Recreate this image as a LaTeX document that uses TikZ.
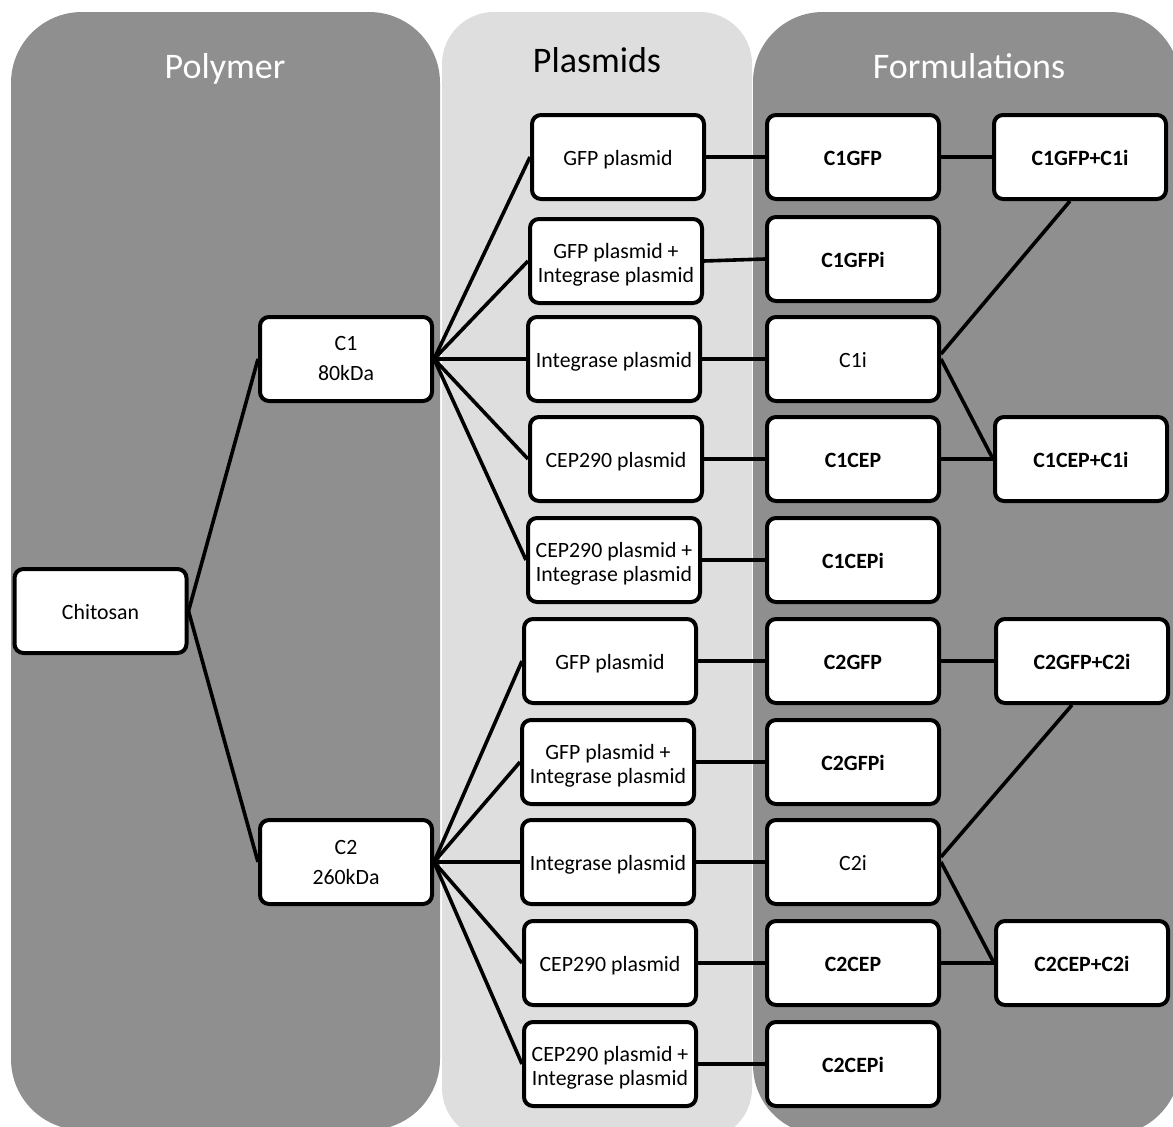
\documentclass[tikz,border=0pt]{standalone}
\usepackage{fontspec}
\setmainfont{Carlito}
\definecolor{darkpanel}{HTML}{8F8F8F}
\definecolor{lightpanel}{HTML}{DEDEDE}
\newcommand\mytopstrut{\rule{0pt}{22pt}}
\begin{document}
\begin{tikzpicture}[x=1pt,y=-1pt,
  box/.style={draw=black, line width=4pt, fill=white, rounded corners=9pt,
    minimum width=172pt, minimum height=84pt, inner sep=0pt, align=center,
    font=\fontsize{21.8}{24}\selectfont},
  sbox/.style={box, text height=16pt, text depth=0pt},
  bbox/.style={sbox, font=\fontsize{21.8}{24}\selectfont\bfseries},
  pbox/.style={box, font=\fontsize{21.8}{30}\selectfont},
  link/.style={line width=3.6pt},
  title/.style={anchor=base, font=\fontsize{36}{40}\selectfont, inner sep=0pt}
]
\clip (0,0) rectangle (1173,1127);
\fill[white] (0,0) rectangle (1173,1127);
% panels
\fill[darkpanel, rounded corners=71pt] (11,12) rectangle (440,1130);
\fill[lightpanel, rounded corners=52pt] (442,12) rectangle (752,1140);
\fill[darkpanel, rounded corners=70pt] (753,12) rectangle (1180,1135);
% titles
\node[title, text=white] (tpoly) at (225,78) {Polymer};
\node[title, text=black] (tplas) at (597,72) {Plasmids};
\node[title, text=white] (tform) at (969,78) {Formulations};
% polymer nodes
\node[sbox] (chit) at (100.5,611) {Chitosan};
\node[pbox] (c1) at (346,359) {C1\\80kDa};
\node[pbox] (c2) at (346,862) {C2\\260kDa};
% plasmid nodes
\node[sbox] (p1) at (618,157) {GFP plasmid};
\node[box]  (p2) at (616,261) {\mytopstrut GFP plasmid +\\Integrase plasmid};
\node[sbox] (p3) at (614,359) {Integrase plasmid};
\node[sbox] (p4) at (616,459) {CEP290 plasmid};
\node[box]  (p5) at (614,560) {\mytopstrut CEP290 plasmid +\\Integrase plasmid};
\node[sbox] (q1) at (610,661) {GFP plasmid};
\node[box]  (q2) at (608,762) {\mytopstrut GFP plasmid +\\Integrase plasmid};
\node[sbox] (q3) at (608,862) {Integrase plasmid};
\node[sbox] (q4) at (610,963) {CEP290 plasmid};
\node[box]  (q5) at (610,1064) {\mytopstrut CEP290 plasmid +\\Integrase plasmid};
% formulations column 1
\node[bbox] (f1) at (853,157) {C1GFP};
\node[bbox] (f2) at (853,259) {C1GFPi};
\node[sbox] (f3) at (853,359) {C1i};
\node[bbox] (f4) at (853,459) {C1CEP};
\node[bbox] (f5) at (853,560) {C1CEPi};
\node[bbox] (g1) at (853,661) {C2GFP};
\node[bbox] (g2) at (853,762) {C2GFPi};
\node[sbox] (g3) at (853,862) {C2i};
\node[bbox] (g4) at (853,963) {C2CEP};
\node[bbox] (g5) at (853,1064) {C2CEPi};
% formulations column 2
\node[bbox] (fa) at (1080,157) {C1GFP+C1i};
\node[bbox] (fb) at (1081,459) {C1CEP+C1i};
\node[bbox] (ga) at (1082,661) {C2GFP+C2i};
\node[bbox] (gb) at (1082,963) {C2CEP+C2i};
% connectors
\draw[link] (chit.east) -- (c1.west);
\draw[link] (chit.east) -- (c2.west);
\foreach \t in {p1,p2,p3,p4,p5} \draw[link] (c1.east) -- (\t.west);
\foreach \t in {q1,q2,q3,q4,q5} \draw[link] (c2.east) -- (\t.west);
\draw[link] (p1.east) -- (f1.west);
\draw[link] (p2.east) -- (f2.west);
\draw[link] (p3.east) -- (f3.west);
\draw[link] (p4.east) -- (f4.west);
\draw[link] (p5.east) -- (f5.west);
\draw[link] (q1.east) -- (g1.west);
\draw[link] (q2.east) -- (g2.west);
\draw[link] (q3.east) -- (g3.west);
\draw[link] (q4.east) -- (g4.west);
\draw[link] (q5.east) -- (g5.west);
\draw[link] (f1.east) -- (fa.west);
\draw[link] (f4.east) -- (fb.west);
\draw[link] (g1.east) -- (ga.west);
\draw[link] (g4.east) -- (gb.west);
\draw[link] ([yshift=5pt]f3.east) -- ([xshift=-10pt]fa.south);
\draw[link] (f3.east) -- (fb.west);
\draw[link] ([yshift=5pt]g3.east) -- ([xshift=-10pt]ga.south);
\draw[link] (g3.east) -- (gb.west);
\end{tikzpicture}
\end{document}
